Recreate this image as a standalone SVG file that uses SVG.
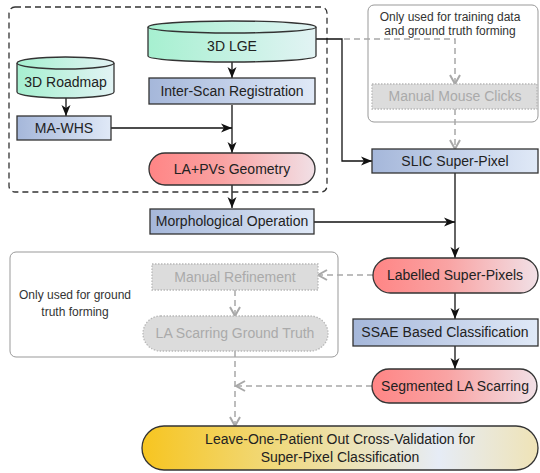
<svg xmlns="http://www.w3.org/2000/svg" width="540" height="473" viewBox="0 0 540 473">
<defs>
<linearGradient id="gBlue" x1="0" y1="0" x2="1" y2="0"><stop offset="0" stop-color="#a5b7da"/><stop offset="1" stop-color="#e0e9f7"/></linearGradient>
<linearGradient id="gRed" x1="0" y1="0" x2="1" y2="0"><stop offset="0" stop-color="#ff8585"/><stop offset="0.45" stop-color="#f9a3a3"/><stop offset="1" stop-color="#f1e0e6"/></linearGradient>
<linearGradient id="gGreen" x1="0" y1="0" x2="1" y2="0"><stop offset="0" stop-color="#a6f0d0"/><stop offset="1" stop-color="#e2f3f4"/></linearGradient>
<linearGradient id="gGold" x1="0" y1="0" x2="1" y2="0"><stop offset="0" stop-color="#f7c520"/><stop offset="0.35" stop-color="#f0da80"/><stop offset="0.75" stop-color="#e6ecf6"/><stop offset="1" stop-color="#efe3b6"/></linearGradient>
<marker id="aBlk" markerUnits="userSpaceOnUse" markerWidth="12" markerHeight="10" refX="11" refY="5" orient="auto"><path d="M0,0.5 L11,5 L0,9.5 L3,5 Z" fill="#111"/></marker>
<marker id="aGry" markerUnits="userSpaceOnUse" markerWidth="12" markerHeight="12" refX="10" refY="6" orient="auto"><path d="M1,1 L10,6 L1,11" fill="none" stroke="#a8a8a8" stroke-width="2"/></marker>
</defs>
<style>
text{font-family:"Liberation Sans",Arial,sans-serif;font-size:14px;fill:#222;text-anchor:middle}
.note{font-size:12px;fill:#333}
.gtx{fill:#aaaaaa}
.box{fill:url(#gBlue);stroke:#333;stroke-width:1.3}
.pill{fill:url(#gRed);stroke:#333;stroke-width:1.3}
.cyl{fill:url(#gGreen);stroke:#333;stroke-width:1.3}
.gnode{fill:#dcdcdc;stroke:#b8b8b8;stroke-width:1.3;stroke-dasharray:1.5,1.5}
.frame{fill:none;stroke:#999;stroke-width:1}
.c{fill:none;stroke:#111;stroke-width:1.3}
.cg{fill:none;stroke:#a8a8a8;stroke-width:1.5;stroke-dasharray:6,4}
</style>
<rect x="9" y="7" width="318" height="185" rx="6" fill="none" stroke="#333" stroke-width="1.3" stroke-dasharray="6,4"/>
<g id="note-training">
<rect class="frame" x="368" y="5" width="170" height="117" rx="6"/>
<text class="note" x="450" y="21">Only used for training data</text>
<text class="note" x="450" y="35">and ground truth forming</text>
</g>
<g id="note-groundtruth">
<rect class="frame" x="10" y="252" width="328" height="105" rx="6"/>
<text class="note" x="75" y="299">Only used for ground</text>
<text class="note" x="75" y="316">truth forming</text>
</g>
<g id="connectors">
<path class="c" d="M232,62 L232,78" marker-end="url(#aBlk)"/>
<path class="c" d="M66,98 L66,116" marker-end="url(#aBlk)"/>
<path class="c" d="M111,128 L232,128" marker-end="url(#aBlk)"/>
<path class="c" d="M232,105 L232,153" marker-end="url(#aBlk)"/>
<path class="c" d="M232,185 L232,208" marker-end="url(#aBlk)"/>
<path class="c" d="M316,39 L342,39 L342,161 L372,161" marker-end="url(#aBlk)"/>
<path class="cg" d="M344,39 L455,39 L455,84" marker-end="url(#aGry)"/>
<path class="cg" d="M455,109 L455,149" marker-end="url(#aGry)"/>
<path class="c" d="M455,173 L455,258" marker-end="url(#aBlk)"/>
<path class="c" d="M314,222 L455,222" marker-end="url(#aBlk)"/>
<path class="c" d="M455,293 L455,319" marker-end="url(#aBlk)"/>
<path class="c" d="M455,346 L455,369" marker-end="url(#aBlk)"/>
<path class="cg" d="M373,275 L318,275" marker-end="url(#aGry)"/>
<path class="cg" d="M235,290 L235,316" marker-end="url(#aGry)"/>
<path class="cg" d="M235,351 L235,426" marker-end="url(#aGry)"/>
<path class="cg" d="M372,386 L236,386" marker-end="url(#aGry)"/>
</g>
<g id="lge">
<path class="cyl" d="M148,27 L148,56 A84,6 0 0 0 316,56 L316,27"/>
<ellipse class="cyl" cx="232" cy="27" rx="84" ry="6"/>
<text x="232" y="51">3D LGE</text>
</g>
<g id="roadmap">
<path class="cyl" d="M17,63 L17,92 A48.5,6 0 0 0 114,92 L114,63"/>
<ellipse class="cyl" cx="65.5" cy="63" rx="48.5" ry="6"/>
<text x="65.5" y="87">3D Roadmap</text>
</g>
<g id="interscan"><rect class="box" x="149" y="78" width="166" height="26"/><text x="232" y="96">Inter-Scan Registration</text></g>
<g id="mawhs"><rect class="box" x="17" y="116" width="94" height="24"/><text x="64" y="133">MA-WHS</text></g>
<g id="geometry"><rect class="pill" x="149" y="153" width="166" height="32" rx="16"/><text x="232" y="174">LA+PVs Geometry</text></g>
<g id="morph"><rect class="box" x="150" y="209" width="164" height="25"/><text x="232" y="226">Morphological Operation</text></g>
<g id="clicks"><rect class="gnode" x="372" y="84" width="165" height="25"/><text class="gtx" x="455" y="101">Manual Mouse Clicks</text></g>
<g id="slic"><rect class="box" x="372" y="149" width="166" height="24"/><text x="455" y="166">SLIC Super-Pixel</text></g>
<g id="labelled"><rect class="pill" x="373" y="258" width="165" height="35" rx="17.5"/><text x="455" y="280">Labelled Super-Pixels</text></g>
<g id="refine"><rect class="gnode" x="152" y="264" width="166" height="26"/><text class="gtx" x="235" y="282">Manual Refinement</text></g>
<g id="gt"><rect class="gnode" x="143" y="316" width="185" height="35" rx="17.5"/><text class="gtx" x="235" y="338">LA Scarring Ground Truth</text></g>
<g id="ssae"><rect class="box" x="353" y="319" width="185" height="27"/><text x="445" y="337">SSAE Based Classification</text></g>
<g id="segmented"><rect class="pill" x="372" y="369" width="165" height="34" rx="17"/><text x="455" y="391">Segmented LA Scarring</text></g>
<g id="loocv"><rect x="142" y="426" width="396" height="44" rx="22" fill="url(#gGold)" stroke="#333" stroke-width="1.3"/>
<text x="340" y="444">Leave-One-Patient Out Cross-Validation for</text>
<text x="340" y="462">Super-Pixel Classification</text></g>
</svg>
